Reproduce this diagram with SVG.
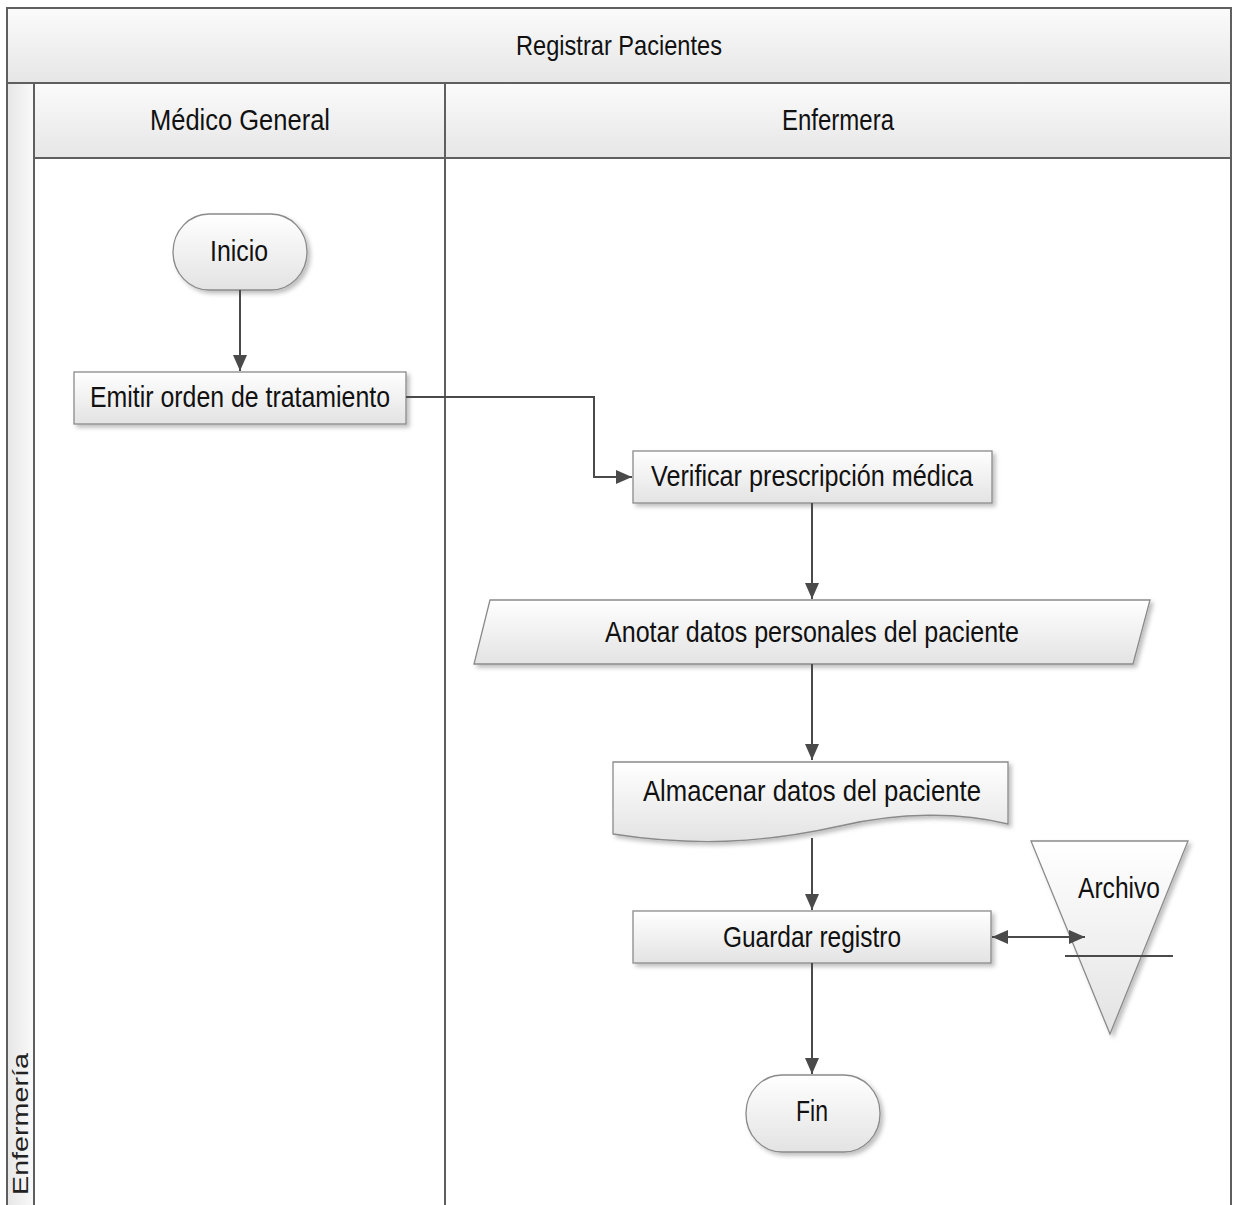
<svg xmlns="http://www.w3.org/2000/svg" width="1233" height="1205" viewBox="0 0 1233 1205">
<style>
.frame{stroke:#5f5f5f;stroke-width:2;}
.shape{stroke:#8a8a8a;stroke-width:1.3;fill:url(#gShape);filter:url(#shadow);}
.lbl{font-family:"Liberation Sans",Arial,sans-serif;font-size:29px;fill:#111;text-anchor:middle;dominant-baseline:central;}
.conn{fill:none;stroke:#4a4a4a;stroke-width:2;}
</style>
<defs>
<linearGradient id="gHead" x1="0" y1="0" x2="0" y2="1">
<stop offset="0" stop-color="#fbfbfb"/><stop offset="1" stop-color="#e6e6e6"/>
</linearGradient>
<linearGradient id="gStrip" x1="0" y1="0" x2="1" y2="0">
<stop offset="0" stop-color="#e6e6e6"/><stop offset="1" stop-color="#fafafa"/>
</linearGradient>
<linearGradient id="gShape" x1="0" y1="0" x2="0" y2="1">
<stop offset="0" stop-color="#ffffff"/><stop offset="1" stop-color="#e3e3e3"/>
</linearGradient>
<filter id="shadow" x="-10%" y="-10%" width="125%" height="135%">
<feDropShadow dx="3" dy="3" stdDeviation="2" flood-color="#000" flood-opacity="0.25"/>
</filter>
<marker id="arr" viewBox="0 0 10 10" refX="10" refY="5" markerWidth="16" markerHeight="14" markerUnits="userSpaceOnUse" orient="auto-start-reverse" preserveAspectRatio="none">
<path d="M0,0 L10,5 L0,10 z" fill="#4a4a4a"/>
</marker>
</defs>
<rect x="0" y="0" width="1233" height="1205" fill="#ffffff"/>

<g id="pool">
<rect x="7" y="8" width="1224" height="75" fill="url(#gHead)" class="frame"/>
<text class="lbl" x="619" y="45" textLength="206" lengthAdjust="spacingAndGlyphs" style="font-size:28px">Registrar Pacientes</text>
<rect x="7" y="83" width="27" height="1130" fill="url(#gStrip)" class="frame"/>
<text x="0" y="0" transform="translate(28,1124) rotate(-90)" font-family="'Liberation Sans',Arial,sans-serif" font-size="22" fill="#222" text-anchor="middle" textLength="142" lengthAdjust="spacingAndGlyphs">Enfermería</text>
</g>

<g id="lane-medico">
<rect x="34" y="83" width="411" height="75" fill="url(#gHead)" class="frame"/>
<text class="lbl" x="240" y="120" textLength="180" lengthAdjust="spacingAndGlyphs">Médico General</text>
<line x1="445" y1="158" x2="445" y2="1210" class="frame"/>
</g>

<g id="lane-enfermera">
<rect x="445" y="83" width="786" height="75" fill="url(#gHead)" class="frame"/>
<text class="lbl" x="838" y="120" textLength="112" lengthAdjust="spacingAndGlyphs">Enfermera</text>
<line x1="1231" y1="158" x2="1231" y2="1210" class="frame"/>
</g>

<g id="inicio">
<rect x="173" y="214" width="134" height="76" rx="36" ry="38" class="shape"/>
<text class="lbl" x="239" y="251" textLength="58" lengthAdjust="spacingAndGlyphs">Inicio</text>
</g>

<g id="emitir">
<rect x="74" y="372" width="332" height="52" class="shape"/>
<text class="lbl" x="240" y="397" textLength="300" lengthAdjust="spacingAndGlyphs">Emitir orden de tratamiento</text>
</g>

<g id="verificar">
<rect x="633" y="451" width="359" height="52" class="shape"/>
<text class="lbl" x="812" y="476" textLength="322" lengthAdjust="spacingAndGlyphs">Verificar prescripción médica</text>
</g>

<g id="anotar">
<polygon points="490,600 1150,600 1133,664 474,664" class="shape"/>
<text class="lbl" x="812" y="632" textLength="414" lengthAdjust="spacingAndGlyphs">Anotar datos personales del paciente</text>
</g>

<g id="almacenar">
<path d="M613,762 L1008,762 L1008,824 C960,812 900,812 840,826 C760,844 690,846 613,834 Z" class="shape"/>
<text class="lbl" x="812" y="791" textLength="338" lengthAdjust="spacingAndGlyphs">Almacenar datos del paciente</text>
</g>

<g id="guardar">
<rect x="633" y="911" width="358" height="52" class="shape"/>
<text class="lbl" x="812" y="937" textLength="178" lengthAdjust="spacingAndGlyphs">Guardar registro</text>
</g>

<g id="archivo">
<polygon points="1031,841 1188,841 1110,1034" class="shape"/>
<line x1="1065" y1="956" x2="1173" y2="956" stroke="#4a4a4a" stroke-width="2"/>
<text class="lbl" x="1119" y="888" textLength="82" lengthAdjust="spacingAndGlyphs">Archivo</text>
</g>

<g id="fin">
<rect x="746" y="1075" width="134" height="77" rx="36" ry="38" class="shape"/>
<text class="lbl" x="812" y="1111" textLength="32" lengthAdjust="spacingAndGlyphs">Fin</text>
</g>

<g id="connectors">
<path class="conn" d="M240,290 L240,371" marker-end="url(#arr)"/>
<path class="conn" d="M406,397 L594,397 L594,477 L632,477" marker-end="url(#arr)"/>
<path class="conn" d="M812,503 L812,599" marker-end="url(#arr)"/>
<path class="conn" d="M812,664 L812,760" marker-end="url(#arr)"/>
<path class="conn" d="M812,838 L812,910" marker-end="url(#arr)"/>
<path class="conn" d="M812,963 L812,1074" marker-end="url(#arr)"/>
<path class="conn" d="M992,937 L1085,937" marker-start="url(#arr)" marker-end="url(#arr)"/>
</g>
</svg>
